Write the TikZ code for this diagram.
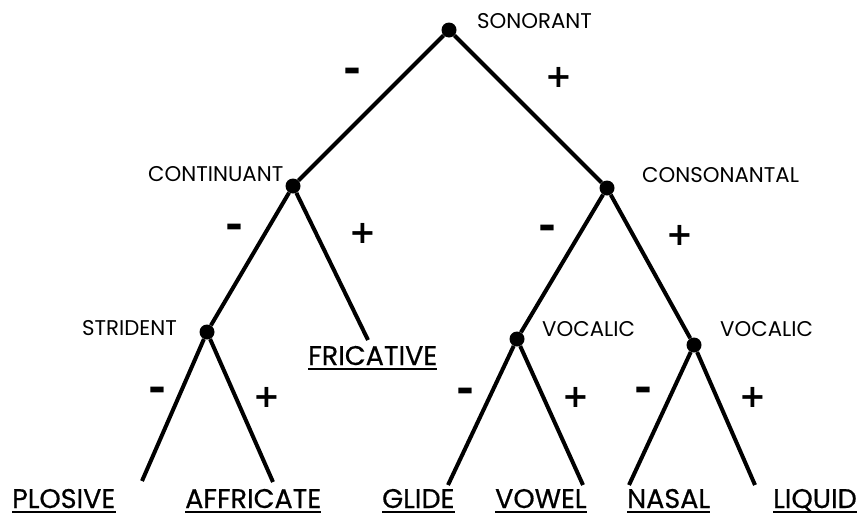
\documentclass[tikz,border=0pt]{standalone}
\usepackage{fontspec}
\newfontfamily\labfont{Poppins}
\newfontfamily\clsfont{Poppins}[FakeBold=0.6]
\newfontfamily\symfont{DejaVu Sans}
\newcommand{\minussign}{\scalebox{1.35}[1.25]{-}}
\begin{document}
\begin{tikzpicture}[x=1pt,y=-1pt,
  branch/.style={line width=4pt},
  dot/.style={circle,fill=black,inner sep=0pt,minimum size=15pt},
  feat/.style={anchor=base west,inner sep=0pt,font=\labfont\fontsize{21.3}{21.3}\selectfont},
  cls/.style={anchor=base west,inner sep=0pt,font=\clsfont\fontsize{27}{27}\selectfont},
  sgn/.style={inner sep=0pt,font=\symfont\bfseries\fontsize{32}{32}\selectfont},
  uline/.style={line width=1.8pt}]
\useasboundingbox (0,0) rectangle (859,517);
% internal nodes
\node[dot] (root) at (449,30) {};
\node[dot] (cont) at (293,186) {};
\node[dot] (cons) at (607,188) {};
\node[dot] (stri) at (207,332) {};
\node[dot] (voc1) at (517,339) {};
\node[dot] (voc2) at (694,345) {};
% leaf ends
\coordinate (plo) at (142,481);
\coordinate (aff) at (273,482);
\coordinate (fri) at (368,340);
\coordinate (gli) at (448,485);
\coordinate (vow) at (583,485);
\coordinate (nas) at (629,485);
\coordinate (liq) at (755,485);
% branches
\draw[branch] (root) -- (cont);
\draw[branch] (root) -- (cons);
\draw[branch] (cont) -- (stri);
\draw[branch] (cont) -- (fri);
\draw[branch] (stri) -- (plo);
\draw[branch] (stri) -- (aff);
\draw[branch] (cons) -- (voc1);
\draw[branch] (cons) -- (voc2);
\draw[branch] (voc1) -- (gli);
\draw[branch] (voc1) -- (vow);
\draw[branch] (voc2) -- (nas);
\draw[branch] (voc2) -- (liq);
% feature labels
\node[feat] (lsono) at (477,28) {SONORANT};
\node[feat] (lcont) at (148,181) {CONTINUANT};
\node[feat] (lcons) at (642,182) {CONSONANTAL};
\node[feat] (lstri) at (82,335) {STRIDENT};
\node[feat] (lvoc1) at (542,336) {VOCALIC};
\node[feat] (lvoc2) at (720,336) {VOCALIC};
% signs
\node[sgn] (m1) at (352,75) {\minussign};
\node[sgn] (p1) at (559,77) {+};
\node[sgn] (m2) at (234,231) {\minussign};
\node[sgn] (p2) at (363,233) {+};
\node[sgn] (m3) at (547,232) {\minussign};
\node[sgn] (p3) at (680,235) {+};
\node[sgn] (m4) at (157,394) {\minussign};
\node[sgn] (p4) at (267,397) {+};
\node[sgn] (m5) at (465,395) {\minussign};
\node[sgn] (p5) at (576,397) {+};
\node[sgn] (m6) at (643,394) {\minussign};
\node[sgn] (p6) at (753,397) {+};
% class labels
\node[cls] (cfri) at (308,365) {FRICATIVE};
\node[cls] (cplo) at (12,508) {PLOSIVE};
\node[cls] (caff) at (185,508) {AFFRICATE};
\node[cls] (cgli) at (382,508) {GLIDE};
\node[cls] (cvow) at (495,508) {VOWEL};
\node[cls] (cnas) at (627,508) {NASAL};
\node[cls] (cliq) at (773,508) {LIQUID};
\foreach \n in {cfri,cplo,caff,cgli,cvow,cnas,cliq}
  \draw[uline] ([yshift=-4pt]\n.base west) -- ([yshift=-4pt]\n.base east);
\end{tikzpicture}
\end{document}
